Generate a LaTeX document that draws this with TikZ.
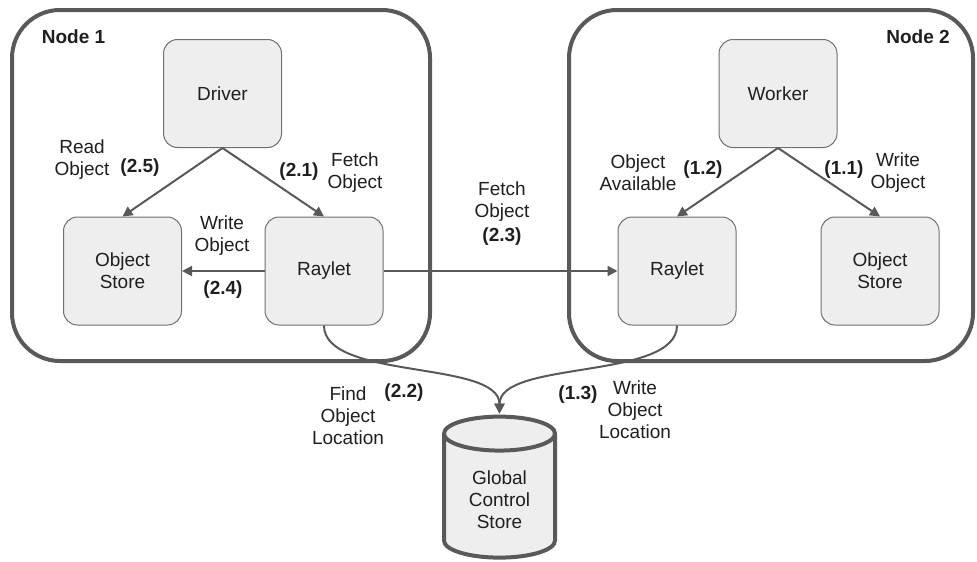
\documentclass[tikz,border=0pt]{standalone}
\usepackage{fontspec}
\setmainfont{Liberation Sans}
\usetikzlibrary{arrows.meta}
\usetikzlibrary{shapes.geometric}
\definecolor{rayink}{HTML}{1F1F1F}
\definecolor{rayline}{HTML}{595959}
\definecolor{rayedge}{HTML}{707070}
\definecolor{rayfill}{HTML}{EEEEEE}
\tikzset{
  rayframe/.style={
    draw=rayline, line width=4pt, rounded corners=48pt, inner sep=0pt},
  raybox/.style={
    draw=rayedge, fill=rayfill, line width=1pt, rounded corners=14pt,
    minimum width=118pt, minimum height=108pt, align=center,
    font=\fontsize{19}{22}\selectfont, text=rayink},
  raydb/.style={
    draw=rayline, fill=rayfill, line width=4pt, shape=cylinder,
    shape border rotate=90, aspect=0.5, align=center,
    font=\fontsize{19}{22}\selectfont, text=rayink},
  rayarrow/.style={
    -{Triangle[length=10pt, width=10pt]}, draw=rayline, line width=2pt},
  raytext/.style={
    align=center, inner sep=0pt, text=rayink,
    font=\fontsize{19}{22}\selectfont},
  raystep/.style={
    inner sep=0pt, text=rayink, font=\fontsize{19}{22}\selectfont\bfseries},
}
\begin{document}
\begin{tikzpicture}[x=1pt, y=-1pt]
\useasboundingbox (0, 0) rectangle (977, 562);

% The two machines.
\node[rayframe, minimum width=418pt, minimum height=351pt]
  (node1) at (221, 185.5) {};
\node[rayframe, minimum width=404pt, minimum height=351pt]
  (node2) at (771, 185.5) {};
\node[raystep] (node1name) at (73.5, 37) {Node 1};
\node[raystep] (node2name) at (918, 37) {Node 2};

% Node 1 processes.
\node[raybox] (driver) at (222.5, 93.5) {Driver};
\node[raybox] (store1) at (122.5, 271) {Object\\Store};
\node[raybox] (raylet1) at (324, 271) {Raylet};

% Node 2 processes.
\node[raybox] (worker) at (778, 93.5) {Worker};
\node[raybox] (raylet2) at (677, 271) {Raylet};
\node[raybox] (store2) at (880, 271) {Object\\Store};

% The shared metadata store.
\node[raydb, minimum width=111pt, minimum height=141pt]
  (gcs) at (499.5, 499.5) {Global\\Control\\Store};

% Node 1 traffic.
\draw[rayarrow] (driver.south) -- (store1.north);
\draw[rayarrow] (driver.south) -- (raylet1.north);
\draw[rayarrow] (raylet1.west) -- (store1.east);
\node[raytext] (readlbl) at (82, 160) {Read\\Object};
\node[raystep] (s25) at (140, 168) {(2.5)};
\node[raystep] (s21) at (299, 172) {(2.1)};
\node[raytext] (fetchlbl) at (355, 173) {Fetch\\Object};
\node[raytext] (writelbl1) at (222, 236) {Write\\Object};
\node[raystep] (s24) at (223, 290) {(2.4)};

% Between the raylets.
\draw[rayarrow] (raylet1.east) -- (raylet2.west);
\node[raytext] (fetchlbl2) at (502, 202) {Fetch\\Object};
\node[raystep] (s23) at (502, 237) {(2.3)};

% Node 2 traffic.
\draw[rayarrow] (worker.south) -- (raylet2.north);
\draw[rayarrow] (worker.south) -- (store2.north);
\node[raytext] (availlbl) at (638, 173) {Object\\Available};
\node[raystep] (s12) at (703, 170) {(1.2)};
\node[raystep] (s11) at (844, 170) {(1.1)};
\node[raytext] (writelbl2) at (898, 173) {Write\\Object};

% Object locations.
\draw[rayarrow] (raylet1.south)
  .. controls ([yshift=-55pt]raylet1.south) and ([yshift=55pt]gcs.north)
  .. ([yshift=1pt]gcs.north);
\draw[rayarrow] (raylet2.south)
  .. controls ([yshift=-55pt]raylet2.south) and ([yshift=55pt]gcs.north)
  .. ([yshift=1pt]gcs.north);
\node[raytext] (findlbl) at (348, 416) {Find\\Object\\Location};
\node[raystep] (s22) at (404, 393) {(2.2)};
\node[raystep] (s13) at (578, 395) {(1.3)};
\node[raytext] (loclbl) at (635, 410) {Write\\Object\\Location};

\end{tikzpicture}
\end{document}
